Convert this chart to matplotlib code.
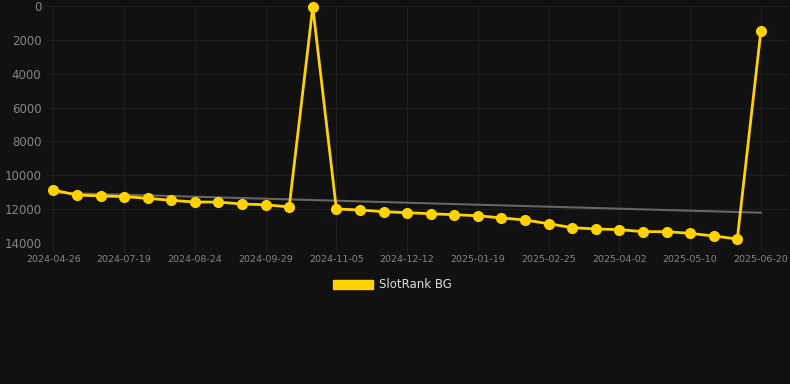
import matplotlib
matplotlib.use("Agg")
import matplotlib.pyplot as plt
from matplotlib.patches import Patch

# every category on the x axis (only every third is labelled)
dates = [
    "2024-04-26", "2024-05-24", "2024-06-21",
    "2024-07-19", "2024-07-31", "2024-08-12",
    "2024-08-24", "2024-09-05", "2024-09-17",
    "2024-09-29", "2024-10-11", "2024-10-23",
    "2024-11-05", "2024-11-17", "2024-11-29",
    "2024-12-12", "2024-12-24", "2025-01-06",
    "2025-01-19", "2025-01-31", "2025-02-12",
    "2025-02-25", "2025-03-09", "2025-03-21",
    "2025-04-02", "2025-04-14", "2025-04-26",
    "2025-05-10", "2025-05-23", "2025-06-06",
    "2025-06-20",
]
ranks = [
    10870, 11165, 11220, 11260, 11360, 11480, 11580, 11580, 11700, 11740,
    11870, 50, 11990, 12050, 12150, 12210, 12270, 12330, 12390, 12520,
    12640, 12860, 13095, 13170, 13210, 13330, 13330, 13430, 13590, 13760,
    1480,
]
trend_ends = [11030, 12210]
y_ticks = [0, 2000, 4000, 6000, 8000, 10000, 12000, 14000]

BG = "#111111"
GOLD = "#FFD200"

fig = plt.figure(figsize=(7.9, 3.84), dpi=100, facecolor=BG)
ax = fig.add_axes([47 / 790, 1 - 243 / 384, 741 / 790, 237 / 384], facecolor=BG)

x = list(range(len(dates)))
ax.plot([x[0], x[-1]], trend_ends, color="#666666", linewidth=1.5, zorder=2)
ax.plot(x, ranks, color=GOLD, linewidth=2.0, marker="o", markersize=7,
        zorder=3, clip_on=False)

ax.set_ylim(14000, 0)
ax.set_xlim(-0.27, 31.15)
ax.set_yticks(y_ticks)
ax.set_yticklabels([str(v) for v in y_ticks])
ax.set_xticks(x[::3])
ax.set_xticklabels(dates[::3])

ax.grid(True, color="#1f1f1f", linewidth=0.8)
ax.set_axisbelow(True)
for spine in ax.spines.values():
    spine.set_visible(False)
ax.tick_params(axis="y", length=0, pad=4, labelsize=8.5, labelcolor="#858585")
ax.tick_params(axis="x", length=6, color="#1f1f1f", pad=3, labelsize=6.8,
               labelcolor="#858585")

handle = Patch(facecolor=GOLD, edgecolor=GOLD)
fig.legend([handle], ["SlotRank BG"], loc="center", bbox_to_anchor=(0.497, 1 - 285 / 384),
           frameon=False, fontsize=8.5, labelcolor="#dddddd",
           handlelength=3.4, handleheight=0.9, handletextpad=0.5)

fig.savefig("out.png", dpi=100, facecolor=BG)
